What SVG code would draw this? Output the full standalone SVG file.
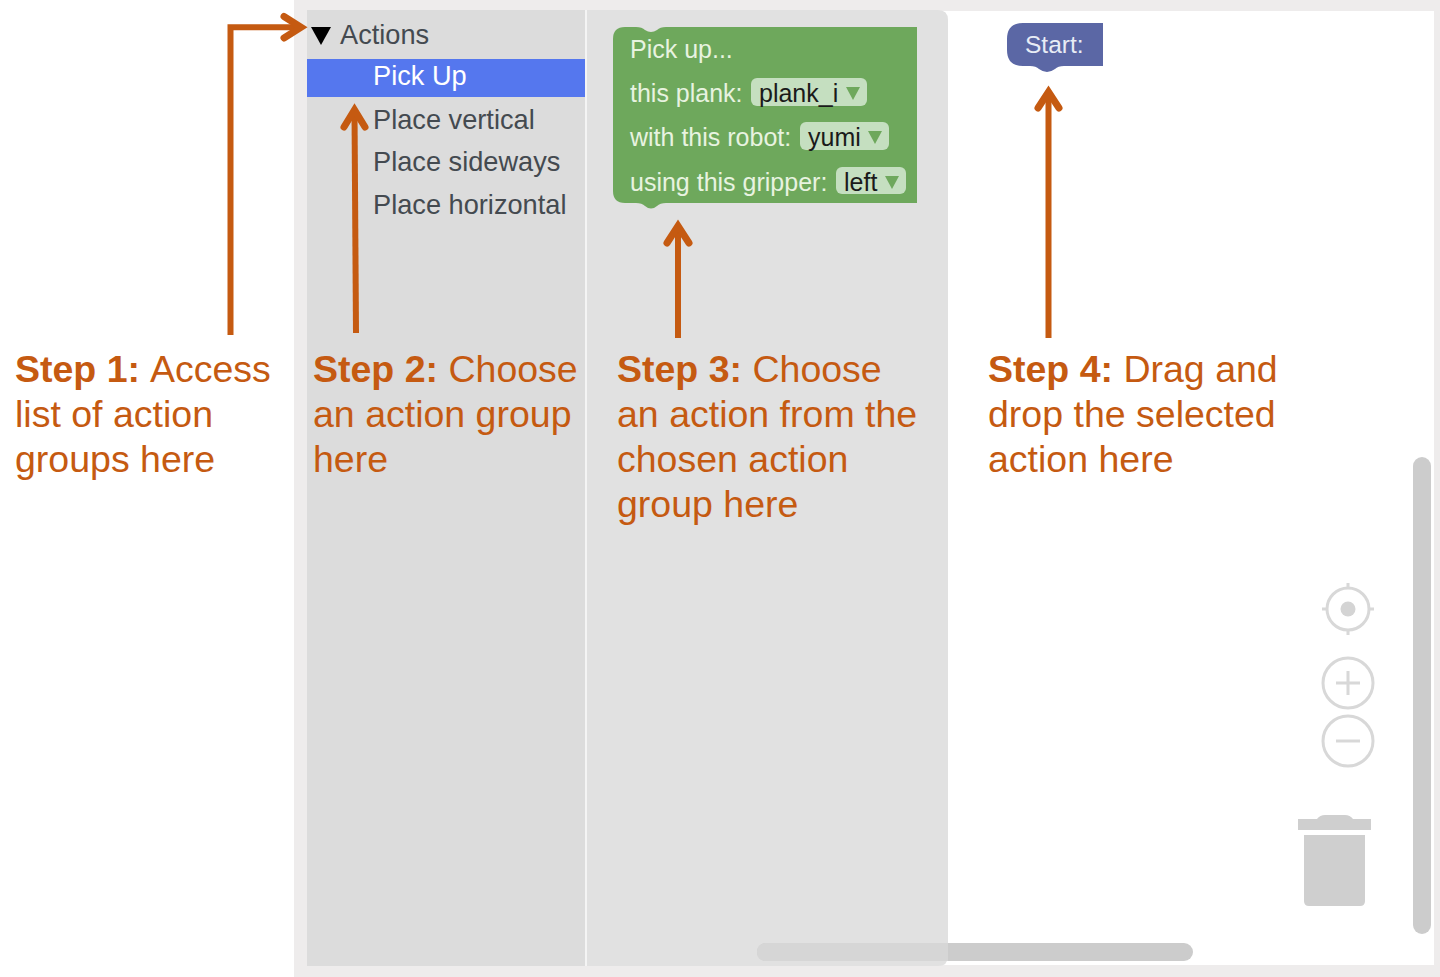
<svg xmlns="http://www.w3.org/2000/svg" width="1440" height="977" viewBox="0 0 1440 977">
<style>
text{font-family:"Liberation Sans",Arial,sans-serif}
.cap{font-size:37.5px;fill:#c55a11}
.cap tspan.b{font-weight:bold}
.tree{font-size:27.2px;fill:#444a50}
.bl{font-size:25px;fill:#e8f3e0}
.dd{font-size:25px;fill:#1a1a1a}
.fld{fill:#c5dfc0}
.tri{fill:#6ea85c}
.arrow{fill:none;stroke:#c55a11;stroke-width:6}
.head{fill:none;stroke:#c55a11;stroke-width:7;stroke-linecap:round;stroke-linejoin:miter}
.ctl{fill:none;stroke:#d8d8d8;stroke-width:3}
</style>
<rect width="1440" height="977" fill="#fff"/>
<g id="workspace-frame">
<rect x="294" y="0" width="1146" height="977" fill="#eeecec"/>
<rect x="307" y="11" width="1127" height="954" fill="#fff"/>
</g>
<g id="toolbox">
<rect x="307" y="10" width="278" height="956" fill="#dcdcdc"/>
<rect x="585" y="10" width="2" height="956" fill="#f4f4f4"/>
<path d="M311 27H331L321 45Z" fill="#000"/>
<text class="tree" x="340" y="44">Actions</text>
<rect x="307" y="59" width="278" height="38" fill="#5577ee"/>
<text class="tree" x="373" y="85" style="fill:#fff">Pick Up</text>
<text class="tree" x="373" y="129">Place vertical</text>
<text class="tree" x="373" y="171">Place sideways</text>
<text class="tree" x="373" y="214">Place horizontal</text>
</g>
<g id="flyout">
<path d="M587 10H938Q948 10 948 20V956Q948 966 938 966H587Z" fill="#e1e1e1"/>
</g>
<g id="scrollbars">
<rect x="757" y="943" width="436" height="18" rx="9" fill="#cccccc"/>
<path d="M948 943H766Q757 943 757 952Q757 961 766 961H948Z" fill="#d6d6d6"/>
<rect x="1413" y="457" width="18" height="477" rx="9" fill="#cccccc"/>
</g>
<g id="pick-up-block">
<path d="M625 27H636Q642 27 645 30Q651 34 657 30Q660 27 666 27H917V203H666Q660 203 657 206Q651 211 645 206Q642 203 636 203H625Q613 203 613 191V39Q613 27 625 27Z" fill="#6ea85c"/>
<text class="bl" x="630" y="57.500">Pick up...</text>
<text class="bl" x="630" y="101.500">this plank:</text>
<rect class="fld" x="751" y="78" width="116" height="28" rx="6"/>
<text class="dd" x="759" y="101.500">plank_i</text>
<path class="tri" d="M846 87H860L853 100Z"/>
<text class="bl" x="630" y="145.500">with this robot:</text>
<rect class="fld" x="800" y="122" width="89" height="28" rx="6"/>
<text class="dd" x="808" y="145.500">yumi</text>
<path class="tri" d="M868 131H882L875 144Z"/>
<text class="bl" x="630" y="190.500">using this gripper:</text>
<rect class="fld" x="836" y="167" width="70" height="27" rx="6"/>
<text class="dd" x="844" y="190.500">left</text>
<path class="tri" d="M885 176H899L892 189Z"/>
</g>
<g id="start-block">
<path d="M1023 23H1103V66H1064Q1058 66 1055 69Q1047 75 1039 69Q1036 66 1030 66H1023Q1007 66 1007 50V39Q1007 23 1023 23Z" fill="#5b67a5"/>
<text x="1025" y="53" font-size="24.5" style="fill:#e8ecf5">Start:</text>
</g>
<g id="zoom-controls">
<circle class="ctl" cx="1348" cy="609" r="21"/>
<circle cx="1348" cy="609" r="7.5" fill="#d4d4d4"/>
<path class="ctl" d="M1348 583V588M1348 630V635M1322 609H1327M1369 609H1374"/>
<circle class="ctl" cx="1348" cy="683" r="25"/>
<path class="ctl" d="M1336 683H1360M1348 671V695"/>
<circle class="ctl" cx="1348" cy="741" r="25"/>
<path class="ctl" d="M1336 741H1360"/>
</g>
<g id="trash">
<path d="M1298 830V819H1317Q1320 815 1325 815H1345Q1350 815 1353 819H1371V830Z" fill="#cfcfcf"/>
<path d="M1304 835H1365V901Q1365 906 1360 906H1309Q1304 906 1304 901Z" fill="#cfcfcf"/>
</g>
<g id="connectors">
<path class="arrow" d="M230.500 335V27.300H300"/>
<path class="head" d="M284 16.500L301 27.300L284 38"/>
<path class="arrow" d="M356 333L354.500 112"/>
<path class="head" d="M344 127L354.500 110L365 127"/>
<path class="arrow" d="M678 338V229"/>
<path class="head" d="M667 243L678 226L689 243"/>
<path class="arrow" d="M1048.500 338V94"/>
<path class="head" d="M1038 108L1048.500 92L1059 108"/>
</g>
<g id="step-1"><text class="cap" x="15" y="382"><tspan class="b">Step 1:</tspan><tspan dx="1.500"> Access</tspan></text><text class="cap" x="15" y="427">list of action</text><text class="cap" x="15" y="472">groups here</text></g>
<g id="step-2"><text class="cap" x="313" y="382"><tspan class="b">Step 2:</tspan> Choose</text><text class="cap" x="313" y="427">an action group</text><text class="cap" x="313" y="472">here</text></g>
<g id="step-3"><text class="cap" x="617" y="382"><tspan class="b">Step 3:</tspan> Choose</text><text class="cap" x="617" y="427">an action from the</text><text class="cap" x="617" y="472">chosen action</text><text class="cap" x="617" y="517">group here</text></g>
<g id="step-4"><text class="cap" x="988" y="382"><tspan class="b">Step 4:</tspan> Drag and</text><text class="cap" x="988" y="427">drop the selected</text><text class="cap" x="988" y="472">action here</text></g>
</svg>
